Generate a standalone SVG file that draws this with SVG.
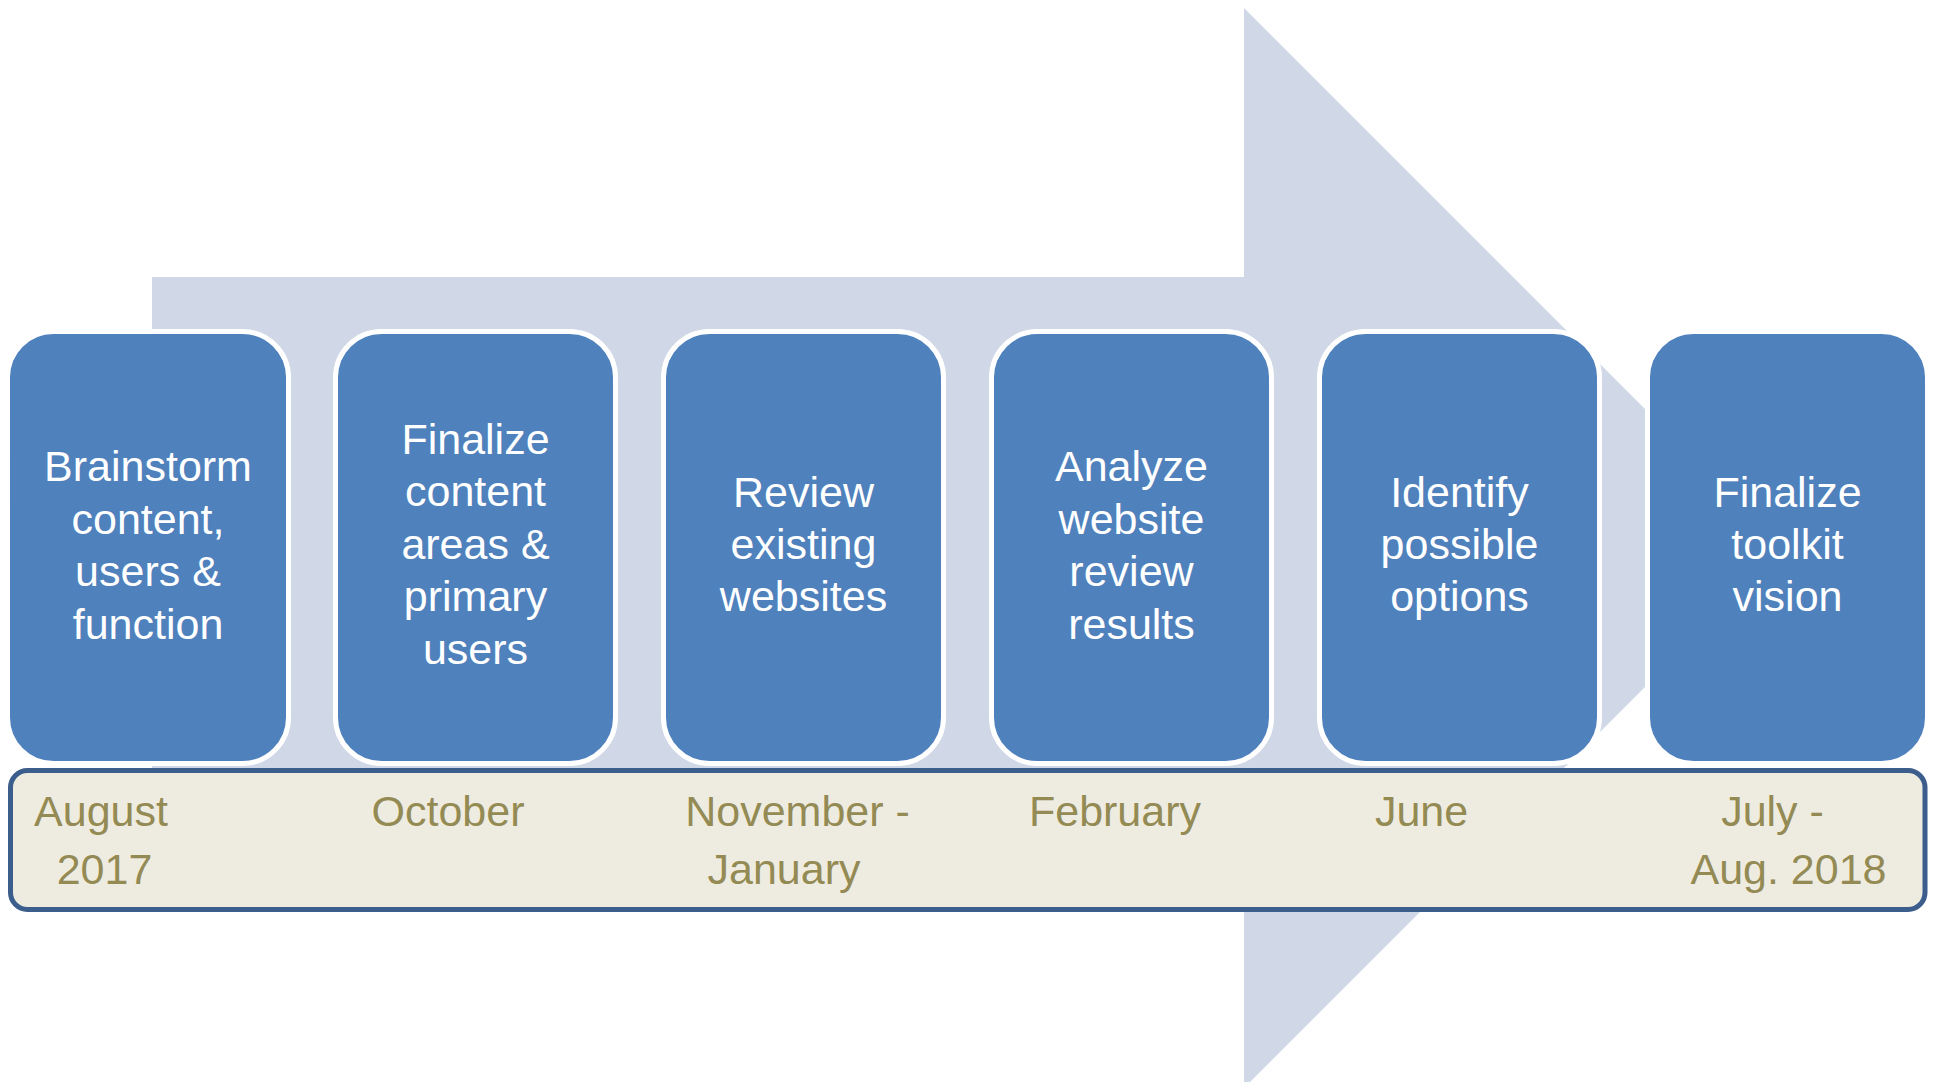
<svg xmlns="http://www.w3.org/2000/svg" width="1937" height="1082" viewBox="0 0 1937 1082">
  <style>
    .arrow { fill: #D0D8E8; }
    .step { fill: #4F81BD; stroke: #FFFFFF; stroke-width: 5; }
    .step-text { font-family: "Liberation Sans", Arial, sans-serif; font-size: 43px; fill: #FFFFFF; text-anchor: middle; }
    .bar { fill: #EEECE1; stroke: #3B5E8C; stroke-width: 5; }
    .date-text { font-family: "Liberation Sans", Arial, sans-serif; font-size: 43px; fill: #948A54; text-anchor: middle; }
  </style>
  <rect x="0" y="0" width="1937" height="1082" fill="#FFFFFF"/>

  <g id="background-arrow">
    <polygon class="arrow" points="152,277 1244,277 1244,8 1645,409 1645,687 1244,1088 1244,819 152,819"/>
  </g>

  <g id="connectors"></g>

  <g id="step1">
    <rect class="step" x="7.5" y="331.5" width="281" height="432" rx="46" ry="46"/>
    <text class="step-text" x="148" y="481">Brainstorm</text>
    <text class="step-text" x="148" y="534">content,</text>
    <text class="step-text" x="148" y="586">users &amp;</text>
    <text class="step-text" x="148" y="639">function</text>
  </g>

  <g id="step2">
    <rect class="step" x="335.5" y="331.5" width="280" height="432" rx="46" ry="46"/>
    <text class="step-text" x="475.5" y="454">Finalize</text>
    <text class="step-text" x="475.5" y="506">content</text>
    <text class="step-text" x="475.5" y="559">areas &amp;</text>
    <text class="step-text" x="475.5" y="611">primary</text>
    <text class="step-text" x="475.5" y="664">users</text>
  </g>

  <g id="step3">
    <rect class="step" x="663.5" y="331.5" width="280" height="432" rx="46" ry="46"/>
    <text class="step-text" x="803.5" y="507">Review</text>
    <text class="step-text" x="803.5" y="559">existing</text>
    <text class="step-text" x="803.5" y="611">websites</text>
  </g>

  <g id="step4">
    <rect class="step" x="991.5" y="331.5" width="280" height="432" rx="46" ry="46"/>
    <text class="step-text" x="1131.5" y="481">Analyze</text>
    <text class="step-text" x="1131.5" y="534">website</text>
    <text class="step-text" x="1131.5" y="586">review</text>
    <text class="step-text" x="1131.5" y="639">results</text>
  </g>

  <g id="step5">
    <rect class="step" x="1319.5" y="331.5" width="280" height="432" rx="46" ry="46"/>
    <text class="step-text" x="1459.5" y="507">Identify</text>
    <text class="step-text" x="1459.5" y="559">possible</text>
    <text class="step-text" x="1459.5" y="611">options</text>
  </g>

  <g id="step6">
    <rect class="step" x="1647.5" y="331.5" width="280" height="432" rx="46" ry="46"/>
    <text class="step-text" x="1787.5" y="507">Finalize</text>
    <text class="step-text" x="1787.5" y="559">toolkit</text>
    <text class="step-text" x="1787.5" y="611">vision</text>
  </g>

  <g id="timeline">
    <rect class="bar" x="10.5" y="770.5" width="1914.5" height="139" rx="17" ry="17"/>
    <text class="date-text" x="101" y="826">August</text>
    <text class="date-text" x="104.5" y="884">2017</text>
    <text class="date-text" x="448" y="826">October</text>
    <text class="date-text" x="797.5" y="826">November -</text>
    <text class="date-text" x="784" y="884">January</text>
    <text class="date-text" x="1115" y="826">February</text>
    <text class="date-text" x="1421.5" y="826">June</text>
    <text class="date-text" x="1772.5" y="826">July -</text>
    <text class="date-text" x="1788.5" y="884">Aug. 2018</text>
  </g>
</svg>
